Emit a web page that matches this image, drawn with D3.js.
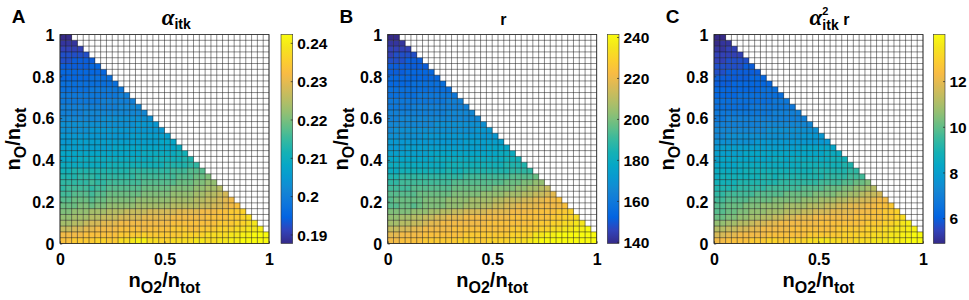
<!DOCTYPE html>
<html><head><meta charset="utf-8">
<script src="https://cdn.jsdelivr.net/npm/d3@7"></script>
<style>
body{margin:0;background:#fff}
svg{display:block}
text{font-family:"Liberation Sans",Arial,Helvetica,sans-serif;font-weight:bold;fill:#000}
</style>
</head><body><svg id="c" width="969" height="300"></svg>
<script>
// ---------------- data ----------------
const N = 36;                       // cells per axis (step 1/36)
const xTicks = [0, 0.5, 1];
const yTicks = [0, 0.2, 0.4, 0.6, 0.8, 1];
const panelLetters = ["A", "B", "C"];

// colour-bar limits
const domainA = [0.18764, 0.24218];
const domainB = [139.2, 241.2];
const domainC = [4.89, 14.04];
const cbTicksA = [0.19, 0.2, 0.21, 0.22, 0.23, 0.24];
const cbTicksB = [140, 160, 180, 200, 220, 240];
const cbTicksC = [6, 8, 10, 12];

// cell values, one string per row from top (nO≈1) to bottom (nO≈0);
// each character is a level 0..35 (base 36) inside the colour-bar limits
const rowsA = [
"00","111","2222","33333","334444","4444455","55555555","555556666","6666666666",
"66666777777","777777777788","7777777888888","88888888889999","888899999999999",
"9999999aaaaaaaaa","aaaaaaaaaaaaabbbb","aaaaabbbbbbbbbbbbb","bbbbbbbbbbbbccccccc",
"bbcccccccccccccccddd","cccccccccddddddddddde","ddddddddddddddeeeeeeff",
"dddeeeeeeeeeeeeefffffgg","eeeeeeeeffffffffffgggghh","ffgggggggggghhhhhhhiiijjj",
"ggghhhghhhhhhiiiiiiijjjkkl","hhhhhihhiiiiiijjjjjjkkkllmm","hiiiihiijjjjjjkkkkkllllmmnno",
"iijjjijjkkkkkklllllmmmmnnoopq","jjkkkjkklllllmmmmmmnnnnooppqrs","kkkllkllmmmmmnnnnnnoooooppqqrst",
"llmmmnnnoooppppqqqqqrrrrsssttuuv","mmnnnoopppqqqqrrrrrssssssttttuuvw",
"nnoopqqrrrsssssssssttttttttuuuvvwx","ppqqrrssssttttsttttuuuttuuuvvvwwxxy",
"ssssttttttuuuuvuuuuuuvvvvwwwwxxyyzzz","ttuuuuvvuuwwxyywwvvwwwwxxwwxxyyzzzzz"
];
const rowsB = [
"00","111","2222","23333","333444","4444444","44455555","555555555","5555666666",
"66666666666","666667777777","7777777777888","77778888888888","888888888899999",
"8899999999999999","99999999aaaaaaaaa","9aaaaaaaaaaaaaabbb","aaaaaabbbbbbbbbbbbb",
"bbbbbbbbbbbbbccccccc","bbbccccccccccccccdddd","cccccccddddddddddddeee",
"ddddddddeeeeeeeeeeeefff","eeeeeeeeeeffffffffffgggg","eeffffffffgffgggggggghhhh",
"gghhhhhhhhhhhiiiiiiiijjjjk","hhiiiiiiiiijjjjjjjjjkkkllmm","iiiijjjjjjjkkkkkkkllllmmnnop",
"jjjjjkkkkkklllllmmmmnnnooppqr","jkkkkkllllmmmmnnnnoopppqqrrsst","jjkkjkllllmmmnnnooppqqrrrrsssst",
"llllmmmnnooppqqqqrrrrssssttttuuv","mmnnooppqqrrrsssssssstttttttuuvvw",
"nnooppqrrssssssssttttttttuuuvvwwxx","ppqqrrsssssttttttttttuuuuuvvwwxxyyz",
"rrsssstttttttuuuuuuuuvvvvxxyyzzzzzzz","ssttttuuuuuuvvvuuvvvvwwwxyzzzzzzzzzz"
];
const rowsC = [
"00","011","1122","22222","223333","3333344","33444444","444444555","4445555555",
"55555555666","555566666666","6666666666777","66666677777777","777777777788888",
"7788888888888888","88888888999999999","999999999aaaaaaaaa","99aaaaaaaaaaaaabbbb",
"aaaaaaabbbbbbbbbbbbb","bccccccccccccccdddddd","cccccddddddddddddddeee",
"cdddddddddeedeeeeeeefff","ddddeeeeeeeeeeefffffffgg","eeeeeffffffffffffgggggghh",
"efffffffggfgggggggghhhhiii","ffffggggggghhhhhhhiiiijjkkl","gggghhhhhiiiiiijjjjkkkllmmno",
"hhiiiiijjjjjkkkkkllllmmnnoppq","iijjjjkkkklllllmmmnnnooppqqrss","jjkkklllmmmmnnnnoooppqqrrrssttu",
"jjkkllmmmnnnoooppqqqrrrrsssttuuv","kkllmmnnooppqqrrrssssssstttttuuvw",
"mmnnoopqqrrsssssssttttttttuuuvvwxy","ooppqqrrsssssttttttttuuuuuvvvwwxxyy",
"qqrrssssstttttttuuuuuuvvvvvwwwxxyyzz","ssttttuuuvvuuvvvwwxxwwvvwwwxxxyyyzzz"
];

// parula colour map anchors
const parulaStops = [
"rgb(53,42,135)","rgb(50,67,186)","rgb(3,99,225)","rgb(13,117,220)","rgb(20,133,212)",
"rgb(9,152,209)","rgb(6,167,198)","rgb(21,177,180)","rgb(56,185,158)","rgb(101,190,134)",
"rgb(146,191,115)","rgb(183,189,100)","rgb(217,186,86)","rgb(248,187,68)","rgb(252,206,46)",
"rgb(245,228,29)","rgb(249,251,14)"
];

// ---------------- layout ----------------
const plotTop = 34.5, plotSize = 209, cbWidth = 11.7;
const plotLefts = [60, 387.7, 714];
const cbLefts = [281, 607.3, 933.3];

const panels = [
  {rows: rowsA, domain: domainA, cbTicks: cbTicksA},
  {rows: rowsB, domain: domainB, cbTicks: cbTicksB},
  {rows: rowsC, domain: domainC, cbTicks: cbTicksC}
];

const svg = d3.select("#c");
const interp = d3.piecewise(d3.interpolateRgb, parulaStops);

const grad = svg.append("defs").append("linearGradient").attr("id", "parula")
  .attr("x1", 0).attr("y1", 1).attr("x2", 0).attr("y2", 0);
grad.selectAll("stop").data(d3.range(65)).join("stop")
  .attr("offset", d => d / 64).attr("stop-color", d => interp(d / 64));

const serif = "'Liberation Serif','DejaVu Serif',serif";

panels.forEach((p, pi) => {
  const L = plotLefts[pi], T = plotTop, B = plotTop + plotSize, R = L + plotSize;
  const x = d3.scaleLinear().domain([0, 1]).range([L, R]);
  const y = d3.scaleLinear().domain([0, 1]).range([B, T]);
  const [lo, hi] = p.domain;
  const color = d3.scaleSequential(interp).domain(p.domain).clamp(true);
  const g = svg.append("g");

  const cells = [];
  p.rows.forEach((s, k) => {
    const j = N - 1 - k;
    [...s].forEach((ch, i) => cells.push({i, j, v: lo + parseInt(ch, 36) / 35 * (hi - lo)}));
  });
  const cw = x(1 / N) - x(0), chh = y(0) - y(1 / N);
  g.selectAll("rect.cell").data(cells).join("rect").attr("class", "cell")
    .attr("x", d => x(d.i / N)).attr("y", d => y((d.j + 1) / N))
    .attr("width", cw + 0.2).attr("height", chh + 0.2)
    .attr("fill", d => color(d.v));

  const gl = d3.range(N + 1).map(k => k / N);
  g.selectAll("line.v").data(gl).join("line").attr("class", "v")
    .attr("x1", d => x(d)).attr("x2", d => x(d)).attr("y1", T).attr("y2", B)
    .attr("stroke", "#1a1a1a").attr("stroke-width", 0.6).attr("stroke-opacity", 0.85);
  g.selectAll("line.h").data(gl).join("line").attr("class", "h")
    .attr("y1", d => y(d)).attr("y2", d => y(d)).attr("x1", L).attr("x2", R)
    .attr("stroke", "#1a1a1a").attr("stroke-width", 0.6).attr("stroke-opacity", 0.85);

  g.append("rect").attr("x", L).attr("y", T).attr("width", plotSize).attr("height", plotSize)
    .attr("fill", "none").attr("stroke", "#262626").attr("stroke-width", 0.7);

  const fmt = d3.format("~g");
  const ax = g.append("g").attr("transform", `translate(0,${B})`)
    .call(d3.axisBottom(x).tickValues(xTicks).tickFormat(fmt).tickSizeInner(-2.2).tickSizeOuter(0).tickPadding(10.5));
  const ay = g.append("g").attr("transform", `translate(${L},0)`)
    .call(d3.axisLeft(y).tickValues(yTicks).tickFormat(fmt).tickSizeInner(-2.2).tickSizeOuter(0).tickPadding(5.5));
  [ax, ay].forEach(a => {
    a.select(".domain").remove();
    a.selectAll("line").attr("stroke", "#262626").attr("stroke-width", 0.7);
    a.selectAll("text").attr("font-size", 16).attr("font-family", null).attr("fill", "#000");
  });
  ay.selectAll("text").attr("dy", "0.36em");

  const cbL = cbLefts[pi];
  const cy = d3.scaleLinear().domain(p.domain).range([B, T]);
  g.append("rect").attr("x", cbL).attr("y", T).attr("width", cbWidth).attr("height", plotSize)
    .attr("fill", "url(#parula)").attr("stroke", "#333").attr("stroke-width", 0.6);
  const ac = g.append("g").attr("transform", `translate(${cbL + cbWidth},0)`)
    .call(d3.axisRight(cy).tickValues(p.cbTicks).tickFormat(fmt).tickSizeInner(-2).tickSizeOuter(0).tickPadding(4.5));
  ac.select(".domain").remove();
  ac.selectAll("line").attr("stroke", "#262626").attr("stroke-width", 0.7);
  ac.selectAll("text").attr("font-size", 15.5).attr("font-family", null).attr("fill", "#000").attr("dy", "0.36em");

  svg.append("text").attr("x", L - 48.3).attr("y", 23.3).attr("font-size", 19).text(panelLetters[pi]);

  const xl = svg.append("text").attr("x", (L + R) / 2).attr("y", 287.3).attr("text-anchor", "middle").attr("font-size", 20);
  xl.append("tspan").text("n");
  xl.append("tspan").attr("dy", 6).attr("font-size", 16).text("O2");
  xl.append("tspan").attr("dy", -6).text("/n");
  xl.append("tspan").attr("dy", 6).attr("font-size", 16).text("tot");

  const yl = svg.append("text").attr("transform", `translate(${L - 40},${(T + B) / 2}) rotate(-90)`)
    .attr("text-anchor", "middle").attr("font-size", 20);
  yl.append("tspan").text("n");
  yl.append("tspan").attr("dy", 6).attr("font-size", 16).text("O");
  yl.append("tspan").attr("dy", -6).text("/n");
  yl.append("tspan").attr("dy", 6).attr("font-size", 16).text("tot");

  // title, centred over axes + colour bar
  const cx = (L + cbL + cbWidth) / 2;
  const t = svg.append("text").attr("y", 25).attr("font-size", 16);
  if (pi === 1) {
    t.append("tspan").text("r");
  } else {
    t.append("tspan").attr("font-family", serif).attr("font-style", "italic").attr("font-size", 23).text("α");
    if (pi === 2) {
      t.append("tspan").attr("dy", -10.5).attr("font-size", 11).text("2");
      t.append("tspan").attr("dx", -6.1).attr("dy", 15.5).attr("font-size", 14).text("itk");
      t.append("tspan").attr("dy", -5).text(" r");
    } else {
      t.append("tspan").attr("dy", 3.5).attr("font-size", 14).text("itk");
    }
  }
  const w = t.node().getBBox().width;
  t.attr("x", cx - w / 2);
});

const bad = [];
panels.forEach((p, pi) => p.rows.forEach((s, k) => { if (s.length !== Math.min(k + 2, N)) bad.push(panelLetters[pi] + k + ":" + s.length); }));
if (bad.length) throw new Error("row length mismatch " + bad.join(","));
</script>
</body></html>
